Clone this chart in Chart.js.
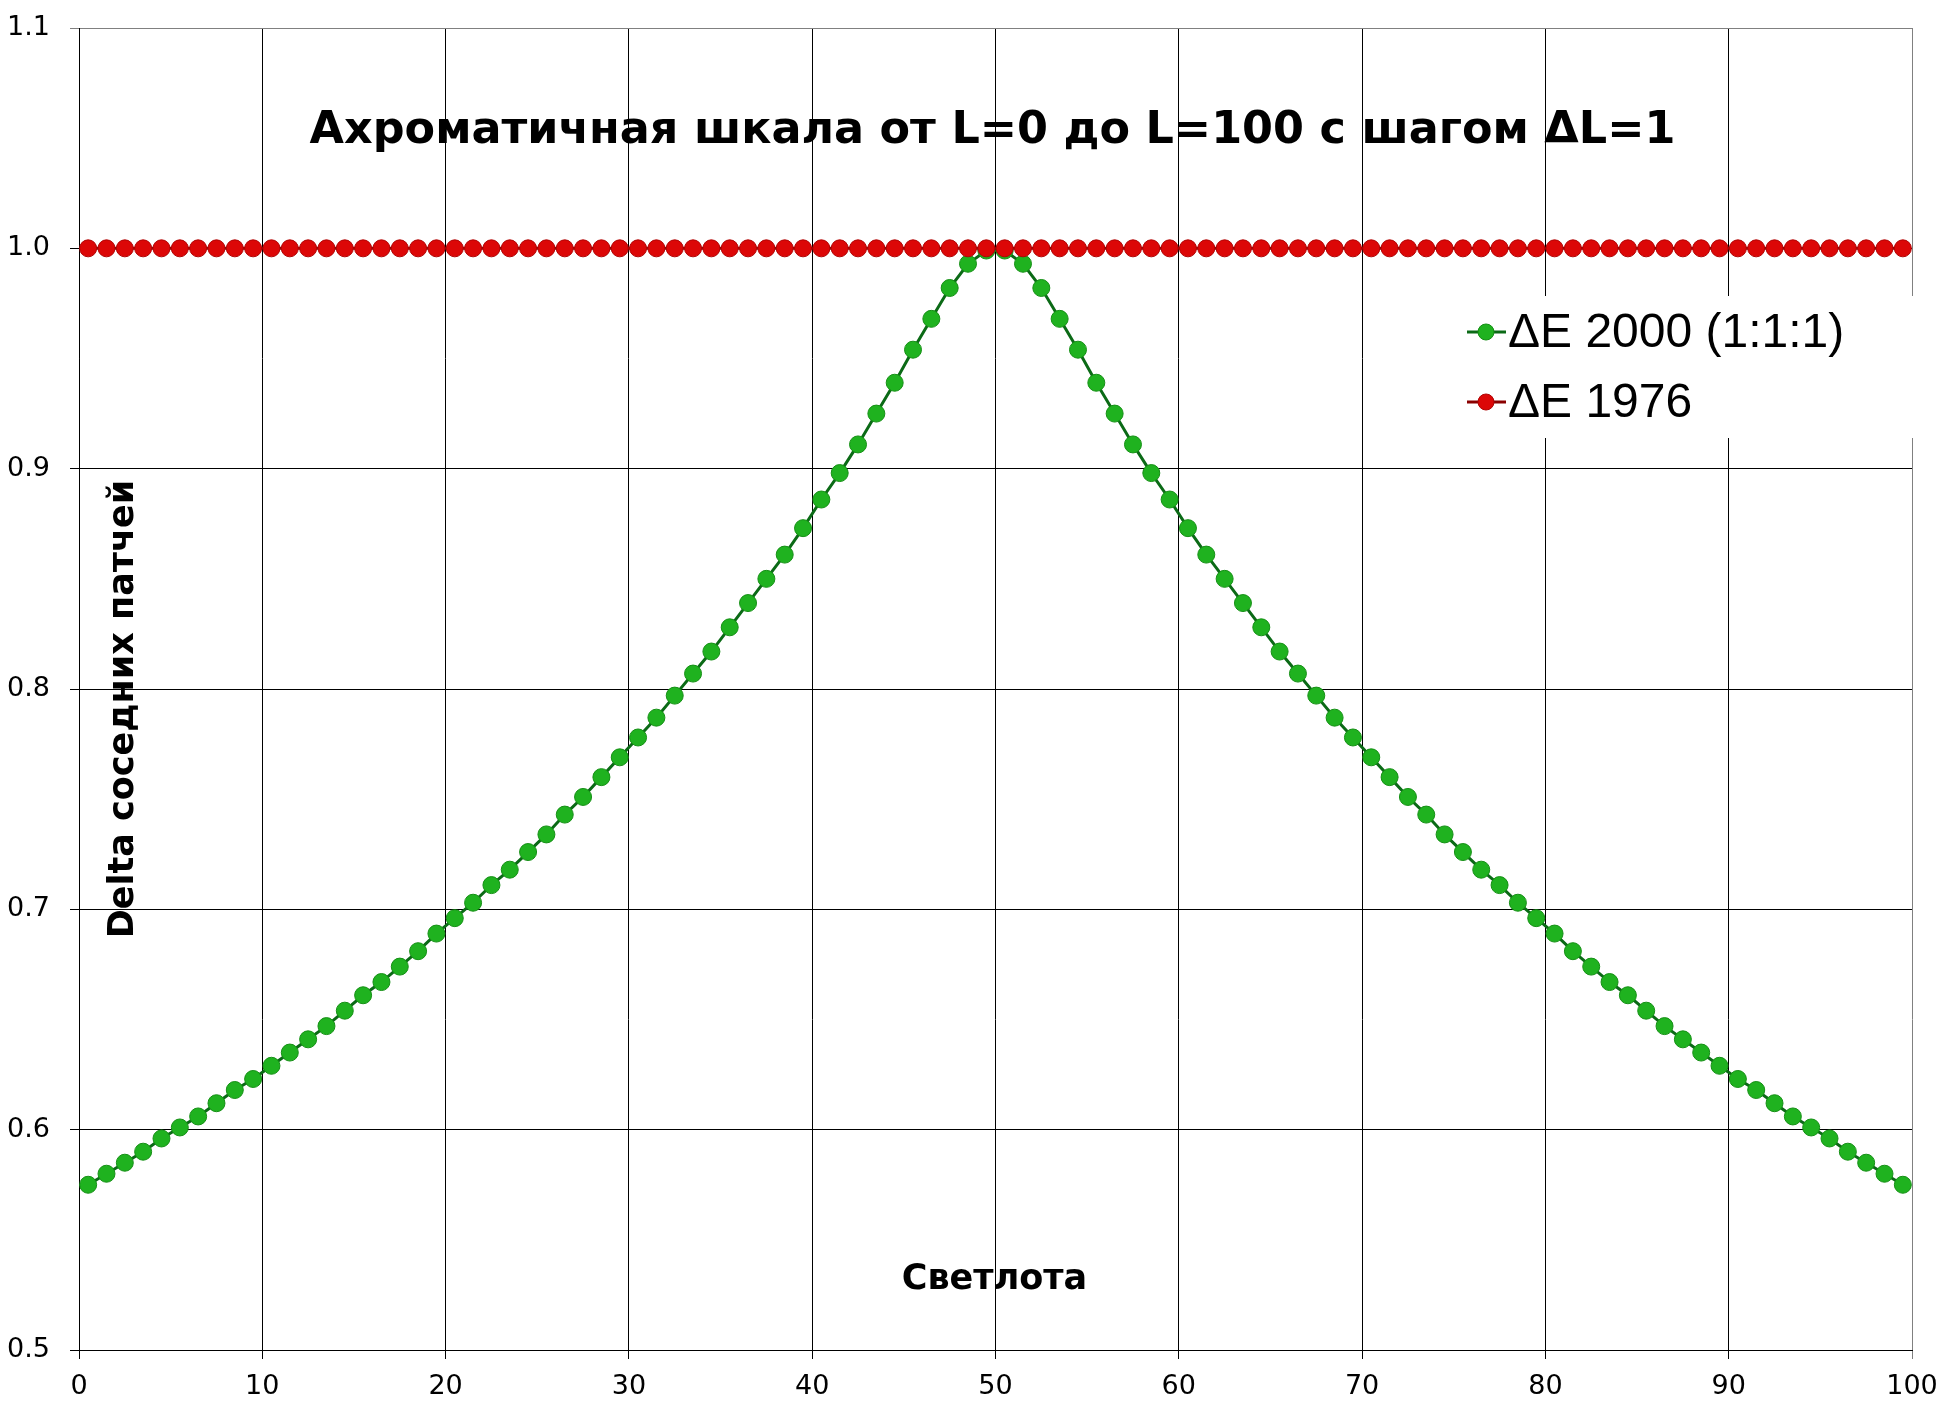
<!DOCTYPE html>
<html>
<head>
<meta charset="utf-8">
<script src="https://cdn.jsdelivr.net/npm/chart.js@4/dist/chart.umd.min.js"></script>
<style>
  html, body { margin: 0; padding: 0; background: #fff; }
  canvas { display: block; }
</style>
</head>
<body>
<canvas id="deltaChart" width="1946" height="1421"></canvas>
<script>
// Lightness midpoints of neighbouring patches
const lightness = [
    0.5, 1.5, 2.5, 3.5, 4.5, 5.5, 6.5, 7.5, 8.5, 9.5,
    10.5, 11.5, 12.5, 13.5, 14.5, 15.5, 16.5, 17.5, 18.5, 19.5,
    20.5, 21.5, 22.5, 23.5, 24.5, 25.5, 26.5, 27.5, 28.5, 29.5,
    30.5, 31.5, 32.5, 33.5, 34.5, 35.5, 36.5, 37.5, 38.5, 39.5,
    40.5, 41.5, 42.5, 43.5, 44.5, 45.5, 46.5, 47.5, 48.5, 49.5,
    50.5, 51.5, 52.5, 53.5, 54.5, 55.5, 56.5, 57.5, 58.5, 59.5,
    60.5, 61.5, 62.5, 63.5, 64.5, 65.5, 66.5, 67.5, 68.5, 69.5,
    70.5, 71.5, 72.5, 73.5, 74.5, 75.5, 76.5, 77.5, 78.5, 79.5,
    80.5, 81.5, 82.5, 83.5, 84.5, 85.5, 86.5, 87.5, 88.5, 89.5,
    90.5, 91.5, 92.5, 93.5, 94.5, 95.5, 96.5, 97.5, 98.5, 99.5
];

const de2000 = [
    0.575, 0.580, 0.585, 0.590, 0.596, 0.601, 0.606, 0.612, 0.618, 0.623,
    0.629, 0.635, 0.641, 0.647, 0.654, 0.661, 0.667, 0.674, 0.681, 0.689,
    0.696, 0.703, 0.711, 0.718, 0.726, 0.734, 0.743, 0.751, 0.760, 0.769,
    0.778, 0.787, 0.797, 0.807, 0.817, 0.828, 0.839, 0.850, 0.861, 0.873,
    0.886, 0.898, 0.911, 0.925, 0.939, 0.954, 0.968, 0.982, 0.993, 0.999,
    0.999, 0.993, 0.982, 0.968, 0.954, 0.939, 0.925, 0.911, 0.898, 0.886,
    0.873, 0.861, 0.850, 0.839, 0.828, 0.817, 0.807, 0.797, 0.787, 0.778,
    0.769, 0.760, 0.751, 0.743, 0.734, 0.726, 0.718, 0.711, 0.703, 0.696,
    0.689, 0.681, 0.674, 0.667, 0.661, 0.654, 0.647, 0.641, 0.635, 0.629,
    0.623, 0.618, 0.612, 0.606, 0.601, 0.596, 0.590, 0.585, 0.580, 0.575
];

const de1976 = [
    1, 1, 1, 1, 1, 1, 1, 1, 1, 1,
    1, 1, 1, 1, 1, 1, 1, 1, 1, 1,
    1, 1, 1, 1, 1, 1, 1, 1, 1, 1,
    1, 1, 1, 1, 1, 1, 1, 1, 1, 1,
    1, 1, 1, 1, 1, 1, 1, 1, 1, 1,
    1, 1, 1, 1, 1, 1, 1, 1, 1, 1,
    1, 1, 1, 1, 1, 1, 1, 1, 1, 1,
    1, 1, 1, 1, 1, 1, 1, 1, 1, 1,
    1, 1, 1, 1, 1, 1, 1, 1, 1, 1,
    1, 1, 1, 1, 1, 1, 1, 1, 1, 1
];

const xTicks = [0, 10, 20, 30, 40, 50, 60, 70, 80, 90, 100];
const yTicks = [0.5, 0.6, 0.7, 0.8, 0.9, 1.0, 1.1];

const seriesNames = ['ΔE 2000 (1:1:1)', 'ΔE 1976'];
const chartTitle = 'Ахроматичная шкала от L=0 до L=100 с шагом ΔL=1';
const xTitle = 'Светлота';
const yTitle = 'Delta соседних патчей';

function toPoints(values) {
    return values.map((v, i) => ({ x: lightness[i], y: v }));
}

// Title, axis titles and legend sit inside the plot area
const overlayText = {
    id: 'overlayText',
    afterDraw(chart) {
        const ctx = chart.ctx;
        const a = chart.chartArea;
        const midX = (a.left + a.right) / 2;
        ctx.save();
        ctx.fillStyle = '#000';
        ctx.textAlign = 'center';
        ctx.textBaseline = 'middle';

        ctx.font = 'bold 44.5px "DejaVu Sans"';
        ctx.fillText(chartTitle, midX - 3, 131);

        ctx.font = 'bold 35px "DejaVu Sans"';
        ctx.fillText(xTitle, midX - 1, 1280);

        ctx.save();
        ctx.translate(124, 709);
        ctx.rotate(-Math.PI / 2);
        ctx.fillText(yTitle, 0, 0);
        ctx.restore();

        // legend
        const lx = 1455, ly = 296;
        ctx.fillStyle = '#fff';
        ctx.fillRect(lx, ly, 470, 142);
        ctx.font = '48px "Liberation Sans"';
        ctx.textAlign = 'left';
        chart.data.datasets.forEach((ds, i) => {
            const cy = ly + 36 + i * 70;
            ctx.strokeStyle = ds.borderColor;
            ctx.lineWidth = 3;
            ctx.beginPath();
            ctx.moveTo(lx + 12, cy);
            ctx.lineTo(lx + 51, cy);
            ctx.stroke();
            ctx.beginPath();
            ctx.arc(lx + 31, cy, 8, 0, Math.PI * 2);
            ctx.fillStyle = ds.pointBackgroundColor;
            ctx.fill();
            ctx.lineWidth = 1;
            ctx.strokeStyle = ds.pointBorderColor;
            ctx.stroke();
            ctx.fillStyle = '#000';
            ctx.fillText(ds.label, lx + 53, cy + 2);
        });
        ctx.restore();
    }
};

const ctx = document.getElementById('deltaChart').getContext('2d');
const deltaChart = new Chart(ctx, {
    type: 'line',
    data: {
        datasets: [{
            label: seriesNames[0],
            data: toPoints(de2000),
            borderColor: '#0b6a16',
            borderWidth: 3,
            pointBackgroundColor: '#1fb21f',
            pointBorderColor: '#158f15',
            pointBorderWidth: 1,
            pointRadius: 8.5,
            tension: 0,
            order: 1
        }, {
            label: seriesNames[1],
            data: toPoints(de1976),
            borderColor: '#8a0000',
            borderWidth: 3,
            pointBackgroundColor: '#dc0707',
            pointBorderColor: '#b00505',
            pointBorderWidth: 1,
            pointRadius: 8.5,
            tension: 0,
            order: 0
        }]
    },
    options: {
        responsive: false,
        animation: false,
        layout: {
            autoPadding: false,
            padding: { left: 0, top: 28, right: 34, bottom: 0 }
        },
        plugins: {
            legend: { display: false },
            title: { display: false },
            tooltip: { enabled: false }
        },
        scales: {
            x: {
                type: 'linear',
                min: 0,
                max: 100,
                afterFit: s => { s.height = 71; s.paddingLeft = 0; s.paddingRight = 0; },
                afterBuildTicks: s => { s.ticks = xTicks.map(v => ({ value: v })); },
                grid: {
                    color: c => (c.tick && c.tick.value === 100) ? '#808080' : '#000',
                    lineWidth: 1,
                    tickLength: 9
                },
                border: { color: '#000', width: 1 },
                ticks: {
                    color: '#000',
                    padding: 12,
                    maxRotation: 0,
                    font: { family: 'DejaVu Sans', size: 27 }
                }
            },
            y: {
                type: 'linear',
                min: 0.5,
                max: 1.1,
                afterFit: s => { s.width = 79; s.paddingTop = 0; s.paddingBottom = 0; },
                afterBuildTicks: s => { s.ticks = yTicks.map(v => ({ value: v })); },
                grid: {
                    color: c => (c.tick && Math.abs(c.tick.value - 1.1) < 1e-6) ? '#808080' : '#000',
                    lineWidth: 1,
                    tickLength: 9
                },
                border: { color: '#000', width: 1 },
                ticks: {
                    color: '#000',
                    padding: 20,
                    font: { family: 'DejaVu Sans', size: 27 },
                    callback: v => Number(v).toFixed(1)
                }
            }
        }
    },
    plugins: [overlayText]
});
</script>
</body>
</html>
